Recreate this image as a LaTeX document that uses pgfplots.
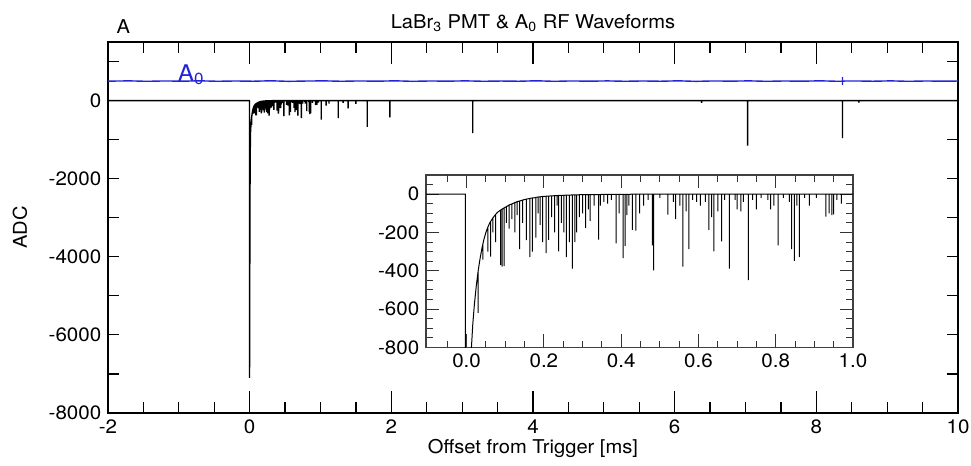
\documentclass[border=0pt]{standalone}
\usepackage{fontspec}
\setmainfont{TeX Gyre Heros}[FakeStretch=1.06]
\usepackage{pgfplots}
\pgfplotsset{compat=1.18}
\usepackage{pgfplotstable}
\definecolor{rfblue}{RGB}{35,35,215}

\pgfplotstableread{
t y
-2.000 0
-0.003 0
-0.002 -7100
0.004 -2600
0.008 -1300
0.012 -820
0.016 -680
0.020 -580
0.025 -480
0.030 -400
0.030 -620
0.030 -400
0.035 -335
0.040 -280
0.042 -262
0.042 -342
0.042 -262
0.045 -235
0.050 -200
0.055 -172
0.055 -300
0.055 -172
0.060 -150
0.062 -143
0.062 -326
0.062 -143
0.068 -124
0.068 -200
0.068 -124
0.075 -106
0.075 -250
0.075 -106
0.080 -95
0.088 -83
0.088 -370
0.088 -83
0.092 -78
0.092 -378
0.092 -78
0.097 -72
0.097 -376
0.097 -72
0.103 -65
0.103 -150
0.103 -65
0.110 -57
0.110 -180
0.110 -57
0.117 -51
0.117 -130
0.117 -51
0.125 -44
0.125 -200
0.125 -44
0.131 -39
0.131 -110
0.131 -39
0.137 -36
0.137 -287
0.137 -36
0.145 -31
0.145 -150
0.145 -31
0.150 -28
0.155 -26
0.155 -240
0.155 -26
0.160 -24
0.164 -22
0.164 -328
0.164 -22
0.170 -20
0.170 -300
0.170 -20
0.175 -19
0.179 -17
0.179 -227
0.179 -17
0.185 -15
0.185 -100
0.185 -15
0.190 -14
0.190 -160
0.190 -14
0.197 -12
0.197 -250
0.197 -12
0.206 -11
0.206 -308
0.206 -11
0.212 -10
0.212 -238
0.212 -10
0.220 -9
0.220 -120
0.220 -9
0.228 -8
0.228 -200
0.228 -8
0.234 -8
0.234 -60
0.234 -8
0.238 -7
0.238 -298
0.238 -7
0.245 -6
0.245 -150
0.245 -6
0.252 -6
0.252 -200
0.252 -6
0.258 -5
0.258 -328
0.258 -5
0.266 -5
0.266 -250
0.266 -5
0.274 -4
0.274 -388
0.274 -4
0.280 -4
0.280 -250
0.280 -4
0.285 -4
0.285 -200
0.285 -4
0.292 -3
0.292 -120
0.292 -3
0.300 -3
0.300 -100
0.300 -3
0.308 -3
0.308 -177
0.308 -3
0.315 -2
0.315 -80
0.315 -2
0.320 -2
0.320 -140
0.320 -2
0.330 -2
0.330 -60
0.330 -2
0.342 -2
0.342 -237
0.342 -2
0.346 -2
0.346 -60
0.346 -2
0.355 -1
0.355 -40
0.355 -1
0.365 -1
0.365 -50
0.365 -1
0.375 -1
0.375 -30
0.375 -1
0.387 -1
0.387 -257
0.387 -1
0.395 -1
0.395 -100
0.395 -1
0.405 -1
0.405 -334
0.405 -1
0.410 -1
0.410 -270
0.410 -1
0.415 -1
0.415 -110
0.415 -1
0.420 -1
0.420 -60
0.420 -1
0.429 0
0.429 -187
0.429 0
0.438 0
0.438 -190
0.438 0
0.448 0
0.448 -100
0.448 0
0.458 0
0.458 -60
0.458 0
0.470 0
0.470 -30
0.470 0
0.481 0
0.481 -267
0.481 0
0.484 0
0.484 -398
0.484 0
0.500 0
0.500 -20
0.500 0
0.521 0
0.521 -107
0.521 0
0.535 0
0.535 -40
0.535 0
0.541 0
0.541 -130
0.541 0
0.552 0
0.552 -60
0.552 0
0.560 0
0.560 -378
0.560 0
0.568 0
0.568 -90
0.568 0
0.575 0
0.575 -287
0.575 0
0.585 0
0.585 -30
0.585 0
0.595 0
0.595 -40
0.595 0
0.605 0
0.605 -60
0.605 0
0.618 0
0.618 -40
0.618 0
0.627 0
0.627 -187
0.627 0
0.634 0
0.634 -120
0.634 0
0.640 0
0.640 -298
0.640 0
0.650 0
0.650 -90
0.650 0
0.660 0
0.660 -247
0.660 0
0.668 0
0.668 -30
0.668 0
0.680 0
0.680 -388
0.680 0
0.695 0
0.695 -30
0.695 0
0.700 0
0.700 -80
0.700 0
0.710 0
0.710 -90
0.710 0
0.716 0
0.716 -40
0.716 0
0.729 0
0.729 -448
0.729 0
0.740 0
0.740 -30
0.740 0
0.750 0
0.750 -80
0.750 0
0.762 0
0.762 -20
0.762 0
0.780 0
0.780 -30
0.780 0
0.787 0
0.787 -80
0.787 0
0.795 0
0.795 -60
0.795 0
0.806 0
0.806 -267
0.806 0
0.820 0
0.820 -20
0.820 0
0.835 0
0.835 -40
0.835 0
0.841 0
0.841 -287
0.841 0
0.848 0
0.848 -348
0.848 0
0.855 0
0.855 -60
0.855 0
0.861 0
0.861 -328
0.861 0
0.875 0
0.875 -20
0.875 0
0.887 0
0.887 -60
0.887 0
0.905 0
0.905 -20
0.905 0
0.930 0
0.930 -117
0.930 0
0.938 0
0.938 -100
0.938 0
0.945 0
0.945 -110
0.945 0
0.950 0
0.950 -105
0.950 0
0.958 0
0.958 -30
0.958 0
0.970 0
0.970 -50
0.970 0
1.010 0
1.010 -490
1.010 0
1.080 0
1.080 -130
1.080 0
1.120 0
1.120 -80
1.120 0
1.250 0
1.250 -450
1.250 0
1.320 0
1.320 -60
1.320 0
1.390 0
1.390 -200
1.390 0
1.500 0
1.500 -85
1.500 0
1.660 0
1.660 -670
1.660 0
1.980 0
1.980 -430
1.980 0
3.150 0
3.150 -830
3.150 0
6.380 0
6.380 -60
6.380 0
7.030 0
7.030 -1150
7.030 0
8.370 0
8.370 -960
8.370 0
8.600 0
8.600 -50
8.600 0
10.000 0
}\pmt

\pgfplotstableread{
t y
-2.00 498
-1.70 505
-1.45 494
-1.20 503
-0.95 497
-0.70 506
-0.45 495
-0.20 502
0.05 496
0.30 507
0.55 493
0.80 501
1.05 505
1.30 495
1.55 503
1.80 497
2.05 506
2.30 494
2.55 502
2.80 498
3.05 505
3.30 495
3.55 501
3.80 496
4.05 507
4.30 494
4.55 503
4.80 497
5.05 504
5.30 495
5.55 502
5.80 496
6.05 506
6.30 493
6.55 503
6.80 498
7.05 505
7.30 494
7.55 502
7.80 497
8.05 506
8.30 495
8.37 495
8.37 600
8.37 400
8.37 500
8.55 503
8.80 496
9.05 505
9.30 494
9.55 502
9.80 497
10.00 501
}\rf

\begin{document}
\fontsize{9.5pt}{11pt}\selectfont
\begin{tikzpicture}
\useasboundingbox (-54pt,-26.5pt) rectangle (431.5pt,206.5pt);
\begin{axis}[
  at={(0pt,0pt)}, anchor=south west,
  scale only axis, width=425pt, height=185.5pt,
  clip mode=individual,
  xmin=-2, xmax=10, ymin=-8000, ymax=1500,
  xtick={-2,0,2,4,6,8,10}, minor x tick num=3,
  ytick={-8000,-6000,-4000,-2000,0}, minor y tick num=1,
  extra x ticks={-2,0,2,4,6,8,10}, extra x tick labels={},
  extra x tick style={major tick length=11pt},
  extra y ticks={1000}, extra y tick labels={},
  tick align=inside,
  major tick length=5.5pt, minor tick length=5.5pt,
  tick style={black, line width=0.6pt},
  axis line style={line width=0.8pt},
  scaled ticks=false,
  /pgf/number format/1000 sep={},
  /pgf/number format/assume math mode=true,
  xlabel={Offset from Trigger [ms]},
  ylabel={ADC},
  xlabel style={at={(axis description cs:0.5,-0.1105)}, anchor=base},
  ylabel style={at={(axis description cs:-0.1035,0.5)}, anchor=center},
  every tick label/.append style={font=\fontsize{9.7pt}{11pt}\selectfont},
]
\addplot[rfblue, line width=0.7pt] table[x=t,y=y] {\rf};
\addplot[black, line width=0.7pt, line join=bevel] table[x=t,y=y] {\pmt};
\node[anchor=base, yshift=7pt] at (axis description cs:0.5,1) {LaBr\textsubscript{3} PMT \& A\textsubscript{0} RF Waveforms};
\node[anchor=base west, xshift=1pt, yshift=4.5pt] at (axis description cs:0,1) {A};
\node[anchor=base west, inner sep=0pt, text=rfblue, font=\fontsize{11.5pt}{13pt}\selectfont] at (axis cs:-1.02,500) {A\textsubscript{0}};
\end{axis}
\begin{axis}[
  at={(159pt,32.75pt)}, anchor=south west,
  scale only axis, width=213.5pt, height=86.25pt,
  xmin=-0.105, xmax=1.0, ymin=-800, ymax=100,
  xtick={0,0.2,0.4,0.6,0.8,1.0}, minor x tick num=3,
  ytick={-800,-600,-400,-200,0}, minor y tick num=3,
  extra x ticks={-0.05}, extra x tick labels={},
  extra x tick style={major tick length=3.3pt},
  extra y ticks={50}, extra y tick labels={},
  extra y tick style={major tick length=3.3pt},
  xticklabel style={/pgf/number format/fixed, /pgf/number format/fixed zerofill, /pgf/number format/precision=1},
  tick align=inside,
  major tick length=6.5pt, minor tick length=3.3pt,
  tick style={black!80, line width=0.5pt},
  axis line style={black!75, line width=0.6pt},
  axis background/.style={fill=white},
  scaled ticks=false,
  /pgf/number format/1000 sep={},
  /pgf/number format/assume math mode=true,
  every tick label/.append style={font=\fontsize{9.7pt}{11pt}\selectfont},
]
\addplot[black, line width=0.5pt, line join=bevel] table[x=t,y=y] {\pmt};
\end{axis}
\end{tikzpicture}
\end{document}
